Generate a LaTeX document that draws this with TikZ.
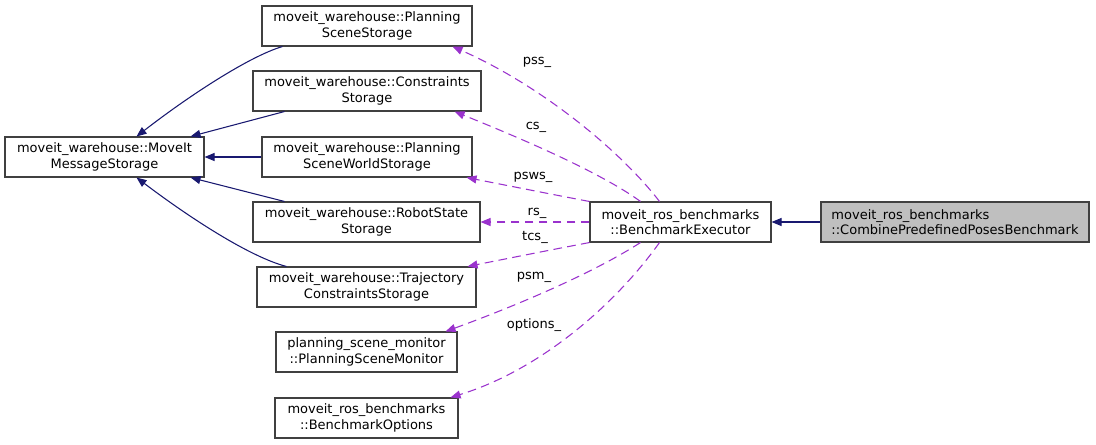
\documentclass[tikz,border=0pt]{standalone}
\usepackage{fontspec}
\setmainfont{DejaVu Sans}
\usetikzlibrary{arrows.meta,calc}
\definecolor{navyc}{HTML}{191970}
\definecolor{purp}{HTML}{9A32CD}
\definecolor{bord}{HTML}{404040}
\definecolor{gfill}{HTML}{BFBFBF}
\begin{document}
\begin{tikzpicture}[x=0.75pt,y=-0.75pt,
  box/.style={draw=bord,line width=0.8pt,minimum height=30pt,inner sep=0pt,align=center,font=\fontsize{9.75}{11.5}\selectfont},
  inh/.style={navyc,line width=0.8pt,-{Triangle[length=7.5pt,width=6pt]}},
  mem/.style={purp,line width=0.8pt,dash pattern=on 6.5pt off 4pt,-{Triangle[length=7.5pt,width=6pt]}},
  lbl/.style={inner sep=0pt,font=\fontsize{9.75}{11.5}\selectfont}]
\useasboundingbox (0,0) rectangle (1096,444);
\node[box,minimum width=149.25pt] (ms) at (104.5,157) {moveit\_warehouse::MoveIt\\MessageStorage};
\node[box,minimum width=157.5pt] (pss) at (367,26) {moveit\_warehouse::Planning\\SceneStorage};
\node[box,minimum width=171pt] (cs) at (367,91) {moveit\_warehouse::Constraints\\Storage};
\node[box,minimum width=157.5pt] (psws) at (367,157) {moveit\_warehouse::Planning\\SceneWorldStorage};
\node[box,minimum width=170.25pt] (rs) at (366.5,222) {moveit\_warehouse::RobotState\\Storage};
\node[box,minimum width=164.25pt] (tcs) at (366.5,287) {moveit\_warehouse::Trajectory\\ConstraintsStorage};
\node[box,minimum width=135.75pt] (psm) at (366.5,352) {planning\_scene\_monitor\\::PlanningSceneMonitor};
\node[box,minimum width=137.25pt] (bo) at (366.5,418) {moveit\_ros\_benchmarks\\::BenchmarkOptions};
\node[box,minimum width=135.75pt] (be) at (680.5,222) {moveit\_ros\_benchmarks\\::BenchmarkExecutor};
\node[box,minimum width=201pt,fill=gfill,align=left] (cp) at (955,222) {moveit\_ros\_benchmarks\\::CombinePredefinedPosesBenchmark};

% inheritance
\draw[inh] ($(pss.south west)+(21,0)$) .. controls (250,56) and (190,95) .. ($(ms.north)+(32,0)$);
\draw[inh] ($(cs.south west)+(32,0)$) -- ($(ms.north east)+(-14,0)$);
\draw[inh] (psws.west) -- (ms.east);
\draw[inh] ($(rs.north west)+(32,0)$) -- ($(ms.south east)+(-14,0)$);
\draw[inh] ($(tcs.north west)+(30,0)$) .. controls (250,257) and (190,218) .. ($(ms.south)+(32,0)$);
\draw[inh] (cp.west) -- (be.east);

% members
\draw[mem] ($(be.north)+(-21,0)$) .. controls (620,150) and (540,85) .. ($(pss.south east)+(-20,0)$);
\draw[mem] ($(be.north)+(-40,0)$) .. controls (600,172) and (520,138) .. ($(cs.south east)+(-27,0)$);
\draw[mem] (be.north west) .. controls (550,194) and (510,186) .. ($(psws.south east)+(-6,0)$);
\draw[mem] (be.west) -- (rs.east);
\draw[mem] (be.south west) .. controls (550,250) and (510,258) .. ($(tcs.north east)+(-9,0)$);
\draw[mem] ($(be.south)+(-40,0)$) .. controls (590,275) and (510,308) .. ($(psm.north east)+(-12,0)$);
\draw[mem] ($(be.south)+(-21,0)$) .. controls (615,305) and (540,370) .. ($(bo.north east)+(-8,0)$);

\node[lbl] (lpss) at (537,62) {pss\_};
\node[lbl] (lcs) at (536,127) {cs\_};
\node[lbl] (lpsws) at (533,177) {psws\_};
\node[lbl] (lrs) at (537,213) {rs\_};
\node[lbl] (ltcs) at (535,237) {tcs\_};
\node[lbl] (lpsm) at (534,277) {psm\_};
\node[lbl] (lopt) at (534,325) {options\_};
\end{tikzpicture}
\end{document}
